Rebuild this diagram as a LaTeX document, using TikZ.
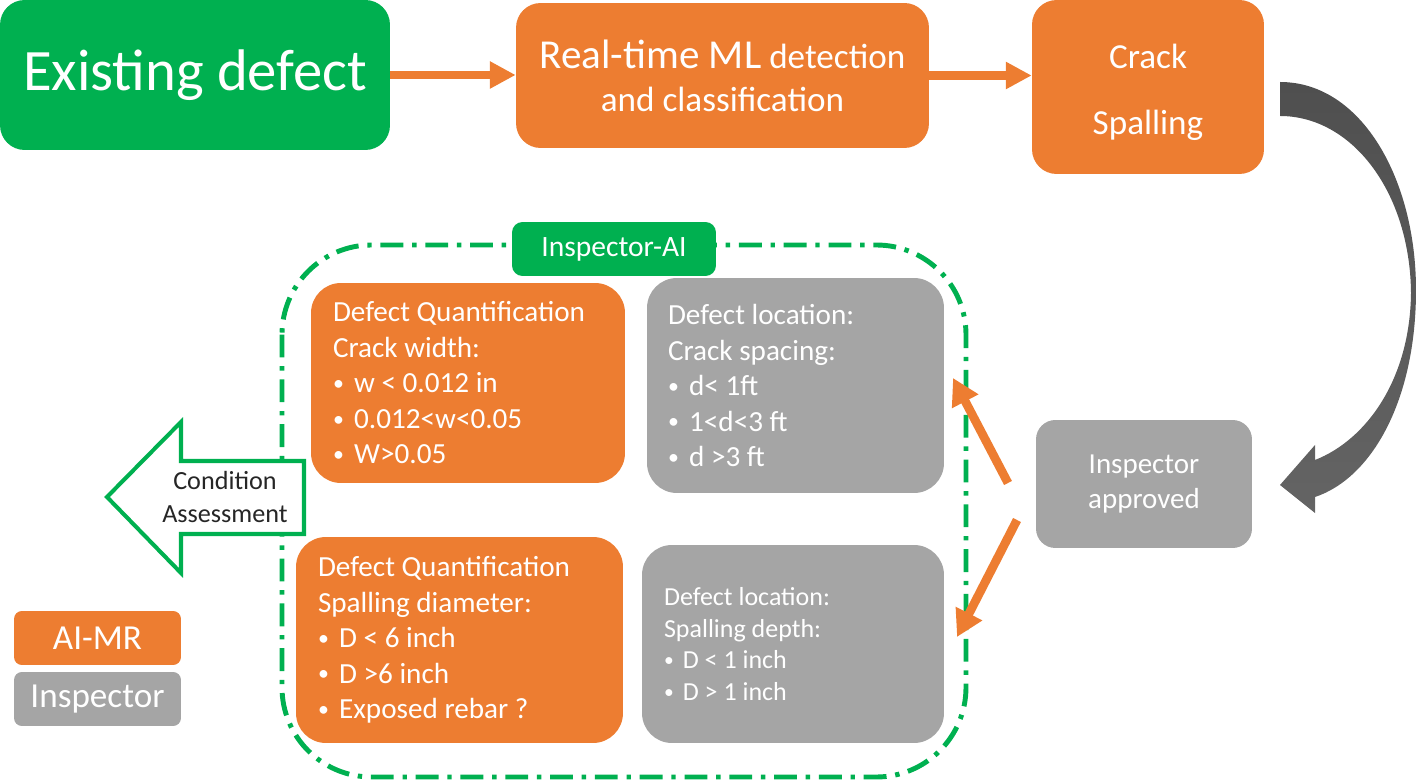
\documentclass[tikz,border=0pt]{standalone}
\usepackage{fontspec}
\setmainfont{Carlito}
\usetikzlibrary{arrows.meta,positioning}

\definecolor{aigreen}{RGB}{0,176,80}
\definecolor{aiorange}{RGB}{237,125,49}
\definecolor{aigray}{RGB}{165,165,165}
\definecolor{arcdark}{RGB}{79,79,79}
\definecolor{arclight}{RGB}{100,100,100}
\newcommand{\fsz}[2]{\fontsize{#1}{#2}\selectfont}
\newcommand{\bul}{\raisebox{0.08em}{\scalebox{0.75}{•}}\hspace{0.35em}}

\begin{document}
\begin{tikzpicture}[x=0.02cm, y=-0.02cm,
  box/.style = {shape = rectangle, rounded corners = 17pt, text = white, inner ysep = 2pt},
  quadbox/.style = {box, align = flush left, inner xsep = 0.44cm, font = \fsz{16.6}{20.2}},
  flowarrow/.style = {draw = aiorange, line width = 4.7pt, -{Triangle[length = 14.7pt, width = 14.6pt]}},
  diagarrow/.style = {draw = aiorange, line width = 5pt, -{Triangle[length = 15pt, width = 16pt]}},
  legendbox/.style = {box, rounded corners = 4.5pt, minimum width = 3.34cm, minimum height = 1.08cm, font = \fsz{20}{24}}]
\useasboundingbox (0,0) rectangle (1417,780);

% top row
\node[box, fill = aigreen, rounded corners = 14pt, minimum width = 7.8cm, minimum height = 3.0cm, font = \fsz{33.4}{40}] (exist) at (195,75) {Existing defect};
\node[box, fill = aiorange, rounded corners = 14pt, minimum width = 8.26cm, minimum height = 2.9cm, align = center, font = \fsz{20}{24.4}] (realtime) at (722.5,75.5) {{\fsz{23.4}{24.4}Real-time ML} detection\\and classification};
\node[box, fill = aiorange, rounded corners = 14pt, minimum width = 4.64cm, minimum height = 3.48cm, align = center, font = \fsz{20}{24}] (crack) at (1148,87) {\rule{0pt}{20pt}Crack\\[14pt]Spalling};
\draw[flowarrow] (exist.east) -- (exist.east -| realtime.west);
\draw[flowarrow] (realtime.east) -- (realtime.east -| crack.west);

% curved return arrow
\shade[top color = arcdark, bottom color = arclight] (1280,82) .. controls (1362,82) and (1416,180) .. (1416,290)
  .. controls (1416,400) and (1372,478) .. (1315,497) -- (1315,513) -- (1280,485) -- (1315,445) -- (1315,460)
  .. controls (1366,440) and (1410,380) .. (1411,293) .. controls (1410,192) and (1352,116) .. (1280,116) -- cycle;

\node[box, fill = aigray, rounded corners = 11pt, minimum width = 4.32cm, minimum height = 2.56cm, align = center, font = \fsz{16.5}{20.4}] (approved) at (1144,484) {Inspector\\approved};

% Inspector-AI group
\draw[aigreen, line width = 2.8pt, rounded corners = 51pt, dash pattern = on 13pt off 5pt on 2.5pt off 5pt] (282,245) rectangle (966,777);
\node[box, fill = aigreen, rounded corners = 6pt, minimum width = 4.08cm, minimum height = 1.08cm, font = \fsz{16.8}{20}] (insai) at (614,249) {Inspector-AI};

\node[quadbox, fill = aiorange, text width = 5.40cm, minimum height = 4.0cm] (crackq) at (468,383) {Defect Quantification\\Crack width:\\\bul w < 0.012 in\\\bul 0.012<w<0.05\\\bul W>0.05};
\node[quadbox, fill = aigray, inner xsep = 0.42cm, text width = 5.10cm, minimum height = 4.3cm] (crackl) at (795.5,385.5) {Defect location:\\Crack spacing:\\\bul d< 1ft\\\bul 1<d<3 ft\\\bul d >3 ft};
\node[quadbox, fill = aiorange, text width = 5.66cm, minimum height = 4.12cm] (spallq) at (459.5,640) {Defect Quantification\\Spalling diameter:\\\bul D < 6 inch\\\bul D >6 inch\\\bul Exposed rebar ?};
\node[quadbox, fill = aigray, text width = 5.16cm, minimum height = 3.96cm, font = \fsz{14.8}{18}] (spalll) at (793,644) {Defect location:\\Spalling depth:\\\bul D < 1 inch\\\bul D > 1 inch};

\coordinate (uptail) at (1008,483);
\coordinate (uptip) at (953,378);
\coordinate (dntail) at (1017,520);
\coordinate (dntip) at (957,637);
\draw[diagarrow] (uptail) -- (uptip);
\draw[diagarrow] (dntail) -- (dntip);

% condition assessment
\filldraw[fill = white, draw = aigreen, line width = 2.3pt, miter limit = 20] (107,497) -- (181,422) -- (181,461) -- (304,461) -- (304,534) -- (181,534) -- (181,573) -- cycle;
\node[align = center, text = black!85, font = \fsz{14.9}{18.7}] (cond) at (225,497) {Condition\\Assessment};

% legend
\node[legendbox, fill = aiorange] (legai) at (97.5,638) {AI-MR};
\node[legendbox, fill = aigray] (legins) at (97.5,699) {Inspector};
\end{tikzpicture}
\end{document}
